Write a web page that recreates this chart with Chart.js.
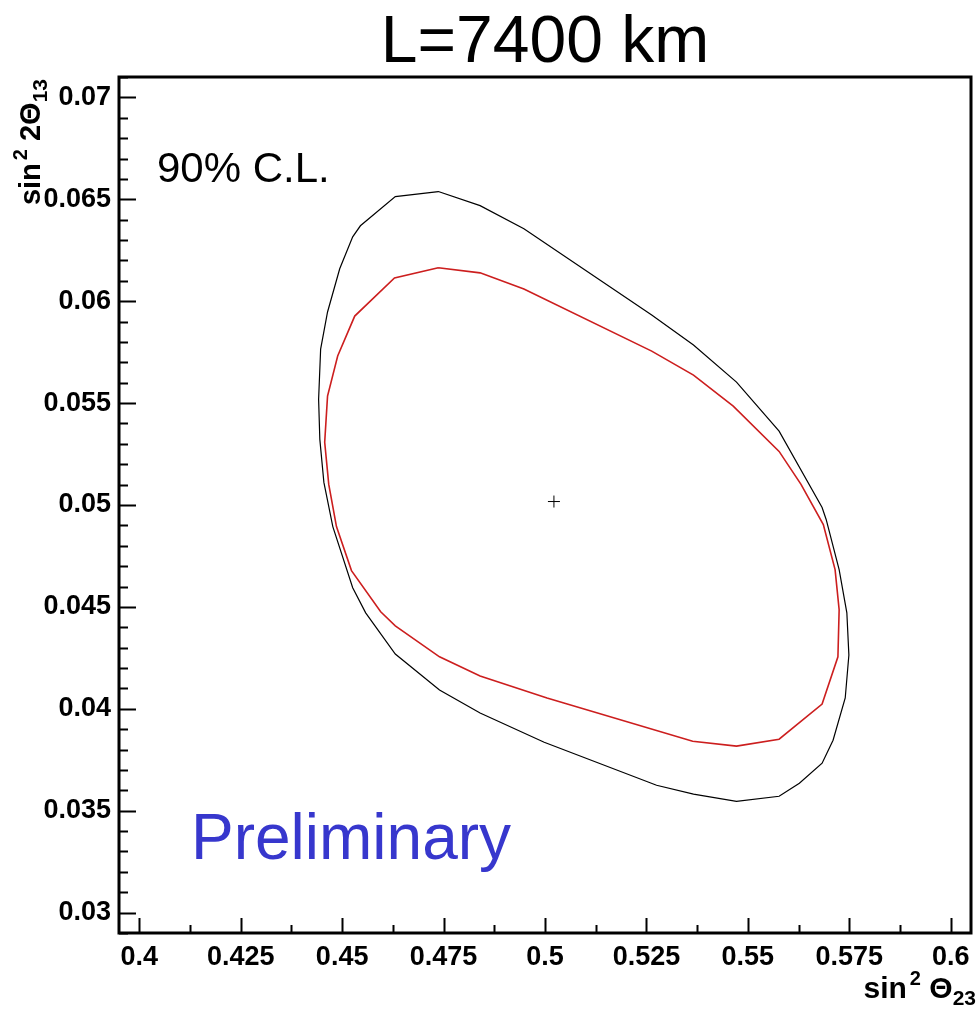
<!DOCTYPE html>
<html>
<head>
<meta charset="utf-8">
<script src="https://cdn.jsdelivr.net/npm/chart.js@4.4.0/dist/chart.umd.min.js"></script>
<style>
body{margin:0;background:#fff;}
#wrap{width:978px;height:1010px;}
</style>
</head>
<body>
<div id="wrap"><canvas id="myChart" width="978" height="1010"></canvas></div>
<script>
'use strict';

// tick labels
let xTicks = [0.4, 0.425, 0.45, 0.475, 0.5, 0.525, 0.55, 0.575, 0.6];
let yTicks = [0.03, 0.035, 0.04, 0.045, 0.05, 0.055, 0.06, 0.065, 0.07];

// outer contour (black)
let outerX = [0.4737,0.4840,0.4948,0.5263,0.5366,0.5472,0.5577,0.5683,0.5693,0.5725,0.5744,0.5749,0.5740,0.5710,0.5683,0.5627,0.5577,0.5472,0.5366,0.5275,0.4998,0.4840,0.4740,0.4631,0.4558,0.4526,0.4477,0.4455,0.4445,0.4442,0.4447,0.4464,0.4494,0.4526,0.4545,0.4631,0.4737];
let outerY = [0.06538,0.06469,0.06355,0.05932,0.05785,0.05603,0.05362,0.04988,0.04929,0.04683,0.04471,0.04264,0.04053,0.03846,0.03733,0.03635,0.03571,0.03546,0.03581,0.03625,0.03836,0.03979,0.04092,0.04269,0.04471,0.04594,0.04894,0.05111,0.05322,0.05519,0.05765,0.05947,0.06159,0.06316,0.06370,0.06513,0.06538];

// inner contour (red)
let innerX = [0.4737,0.4840,0.4948,0.5263,0.5366,0.5464,0.5577,0.5631,0.5686,0.5715,0.5725,0.5722,0.5683,0.5577,0.5472,0.5364,0.5005,0.4840,0.4740,0.4631,0.4595,0.4523,0.4486,0.4467,0.4457,0.4464,0.4489,0.4531,0.4629,0.4737];
let innerY = [0.06164,0.06139,0.06060,0.05755,0.05637,0.05485,0.05263,0.05101,0.04904,0.04683,0.04486,0.04255,0.04023,0.03851,0.03817,0.03841,0.04053,0.04161,0.04255,0.04407,0.04476,0.04678,0.04894,0.05101,0.05308,0.05534,0.05731,0.05927,0.06114,0.06164];

// best fit point
let bestX = [0.5022];
let bestY = [0.05017];

const FONT = '"Liberation Sans", Arial, Helvetica, sans-serif';

function toPoints(xs, ys){
  let pts = [];
  for (let i = 0; i < xs.length; i++){
    pts.push({x: xs[i], y: ys[i]});
  }
  return pts;
}

function drawRich(ctx, parts, x, y){
  // right aligned at x, baseline y
  let total = 0;
  for (let p of parts){
    ctx.font = 'bold ' + p.s + 'px ' + FONT;
    total += ctx.measureText(p.t).width + (p.gap || 0);
  }
  let cx = x - total;
  ctx.textAlign = 'left';
  ctx.textBaseline = 'alphabetic';
  for (let p of parts){
    ctx.font = 'bold ' + p.s + 'px ' + FONT;
    cx += (p.gap || 0);
    ctx.fillText(p.t, cx, y + p.dy);
    cx += ctx.measureText(p.t).width;
  }
}

let rootStyle = {
  id: 'rootStyle',
  afterDraw(chart){
    let ctx = chart.ctx;
    let a = chart.chartArea;
    let xs = chart.scales.x;
    let ys = chart.scales.y;
    ctx.save();
    ctx.strokeStyle = '#000';
    ctx.fillStyle = '#000';

    // ticks
    ctx.lineWidth = 2;
    ctx.beginPath();
    for (let v of yTicks){
      let py = Math.round(ys.getPixelForValue(v)) + 0.5;
      ctx.moveTo(a.left, py); ctx.lineTo(a.left + 17, py);
    }
    for (let k = 0; k <= 42; k++){
      let v = 0.029 + k * 0.001;
      let py = Math.round(ys.getPixelForValue(v)) + 0.5;
      ctx.moveTo(a.left, py); ctx.lineTo(a.left + 9, py);
    }
    for (let v of xTicks){
      let px = Math.round(xs.getPixelForValue(v)) + 0.5;
      ctx.moveTo(px, a.bottom); ctx.lineTo(px, a.bottom - 15);
    }
    for (let k = 0; k < xTicks.length - 1; k++){
      let px = Math.round(xs.getPixelForValue(xTicks[k] + 0.0125)) + 0.5;
      ctx.moveTo(px, a.bottom); ctx.lineTo(px, a.bottom - 8);
    }
    ctx.stroke();

    // frame
    ctx.lineWidth = 3;
    ctx.strokeRect(a.left, a.top, a.right - a.left, a.bottom - a.top);

    // title
    ctx.font = '66px ' + FONT;
    ctx.textAlign = 'center';
    ctx.textBaseline = 'alphabetic';
    ctx.fillText('L=7400 km', (a.left + a.right) / 2, 62);

    ctx.textAlign = 'left';
    ctx.font = '42px ' + FONT;
    ctx.fillText('90% C.L.', 157, 182);

    ctx.fillStyle = 'rgb(55,55,205)';
    ctx.font = '64px ' + FONT;
    ctx.fillText('Preliminary', 191, 859);

    // axis titles
    ctx.fillStyle = '#000';
    drawRich(ctx, [
      {t: 'sin', s: 30, dy: 0},
      {t: '2', s: 20, dy: -13, gap: 3},
      {t: ' \u0398', s: 30, dy: 0},
      {t: '23', s: 21, dy: 7}
    ], 976, 998);

    ctx.translate(40, 79);
    ctx.rotate(-Math.PI / 2);
    drawRich(ctx, [
      {t: 'sin', s: 29, dy: 0},
      {t: '2', s: 20, dy: -13, gap: 3},
      {t: ' 2\u0398', s: 29, dy: 0},
      {t: '13', s: 21, dy: 7}
    ], 0, 0);
    ctx.restore();
  }
};

let ctx = document.getElementById('myChart').getContext('2d');
let myChart = new Chart(ctx, {
  type: 'scatter',
  data: {
    datasets: [{
      label: 'outer',
      data: toPoints(outerX, outerY),
      showLine: true,
      borderColor: '#000',
      borderWidth: 1.2,
      pointRadius: 0,
      tension: 0
    }, {
      label: 'inner',
      data: toPoints(innerX, innerY),
      showLine: true,
      borderColor: 'rgb(204,30,30)',
      borderWidth: 1.6,
      pointRadius: 0,
      tension: 0
    }, {
      label: 'best fit',
      data: toPoints(bestX, bestY),
      showLine: false,
      pointStyle: 'cross',
      pointRadius: 6,
      borderColor: '#000',
      borderWidth: 1
    }]
  },
  options: {
    responsive: false,
    animation: false,
    layout: {padding: {top: 77, right: 3, left: 0, bottom: 0}},
    plugins: {legend: {display: false}, tooltip: {enabled: false}},
    scales: {
      x: {
        type: 'linear',
        min: 0.395,
        max: 0.605,
        grid: {display: false, drawTicks: false},
        border: {display: false},
        afterBuildTicks: (s) => { s.ticks = xTicks.map(v => ({value: v})); },
        afterFit: (s) => { s.height = 77; },
        ticks: {
          color: '#000',
          font: {family: FONT, size: 27, weight: 'bold'},
          padding: 8,
          maxRotation: 0,
          autoSkip: false,
          callback: (v) => String(v)
        }
      },
      y: {
        type: 'linear',
        min: 0.029,
        max: 0.071,
        grid: {display: false, drawTicks: false},
        border: {display: false},
        afterBuildTicks: (s) => { s.ticks = yTicks.map(v => ({value: v})); },
        afterFit: (s) => { s.width = 119; },
        ticks: {
          color: '#000',
          font: {family: FONT, size: 27, weight: 'bold'},
          padding: 8,
          autoSkip: false,
          callback: (v) => String(v)
        }
      }
    }
  },
  plugins: [rootStyle]
});
</script>
</body>
</html>
